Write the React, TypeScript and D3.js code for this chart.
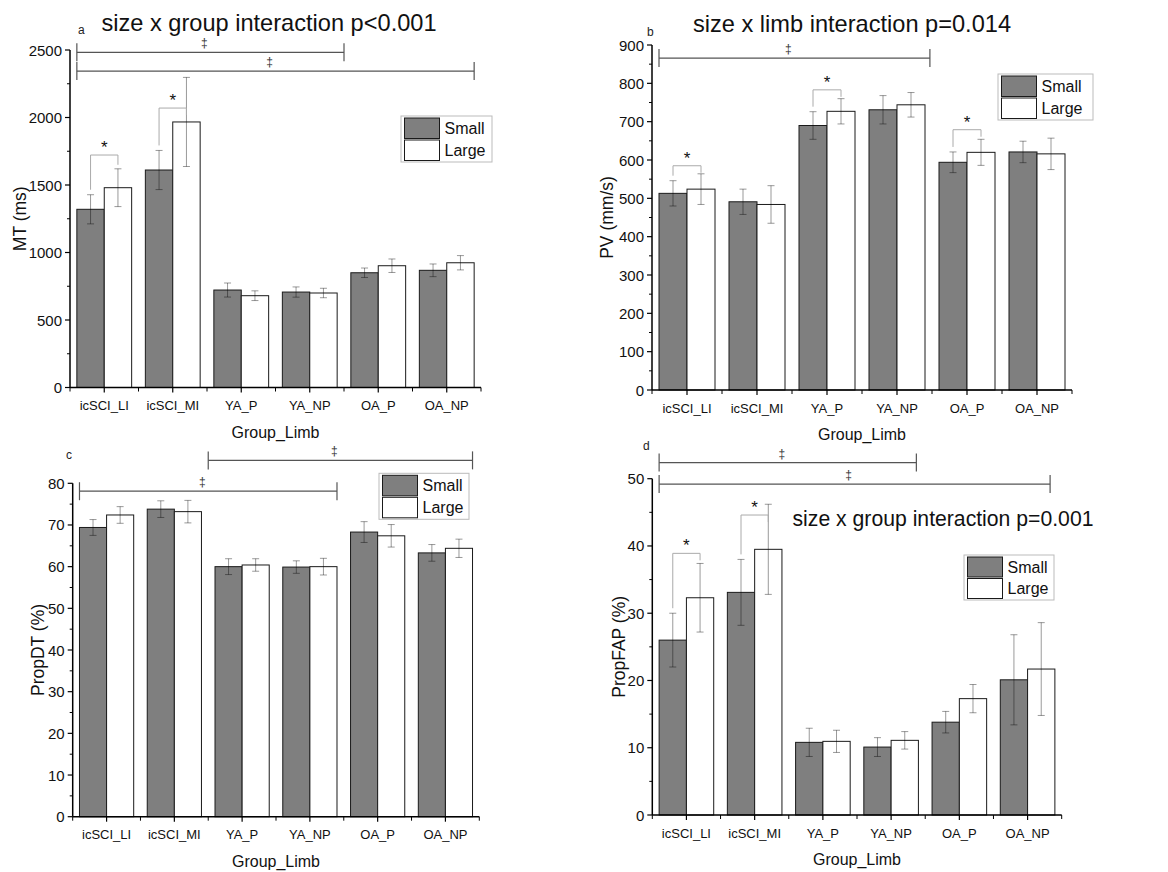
import React from "react";
import * as d3 from "d3";

// ---------- data ----------
const categories = ["icSCI_LI", "icSCI_MI", "YA_P", "YA_NP", "OA_P", "OA_NP"];
const seriesNames = ["Small", "Large"];

const mtSmall = [1320, 1611, 722, 707, 850, 868];
const mtSmallErr = [108, 145, 52, 38, 35, 47];
const mtLarge = [1480, 1967, 680, 700, 902, 924];
const mtLargeErr = [140, 330, 36, 35, 50, 53];
const mtTicks = [0, 500, 1000, 1500, 2000, 2500];

const pvSmall = [513, 491, 690, 731, 594, 621];
const pvSmallErr = [33, 33, 36, 37, 27, 28];
const pvLarge = [524, 484, 727, 744, 620, 616];
const pvLargeErr = [40, 49, 33, 32, 34, 41];
const pvTicks = [0, 100, 200, 300, 400, 500, 600, 700, 800, 900];

const dtSmall = [69.4, 73.8, 60.0, 59.9, 68.3, 63.3];
const dtSmallErr = [1.9, 2.0, 1.9, 1.5, 2.5, 2.0];
const dtLarge = [72.4, 73.2, 60.4, 60.0, 67.4, 64.4];
const dtLargeErr = [2.0, 2.7, 1.5, 2.0, 2.7, 2.2];
const dtTicks = [0, 10, 20, 30, 40, 50, 60, 70, 80];

const fapSmall = [26.0, 33.1, 10.8, 10.1, 13.8, 20.1];
const fapSmallErr = [4.0, 4.9, 2.1, 1.4, 1.6, 6.7];
const fapLarge = [32.3, 39.5, 10.95, 11.1, 17.3, 21.7];
const fapLargeErr = [5.1, 6.7, 1.65, 1.3, 2.1, 6.9];
const fapTicks = [0, 10, 20, 30, 40, 50];

// group-difference lines (‡): [from, to] in category units, level in data units
const mtGroupLines = [
  { from: 0.1, to: 4.0, level: 2483 },
  { from: 0.1, to: 5.9, level: 2344 },
];
const pvGroupLines = [{ from: 0.1, to: 3.97, level: 866 }];
const dtGroupLines = [
  { from: 2.0, to: 5.9, level: 85.5 },
  { from: 0.1, to: 3.9, level: 78.1 },
];
const fapGroupLines = [
  { from: 0.1, to: 3.87, level: 52.4 },
  { from: 0.1, to: 5.83, level: 49.2 },
];

// size-difference brackets (*): category index, level in data units
const mtSizeBrackets = [
  { cat: 0, level: 1722 },
  { cat: 1, level: 2070 },
];
const pvSizeBrackets = [
  { cat: 0, level: 585 },
  { cat: 2, level: 783 },
  { cat: 4, level: 679 },
];
const dtSizeBrackets: { cat: number; level: number }[] = [];
const fapSizeBrackets = [
  { cat: 0, level: 38.9 },
  { cat: 1, level: 44.6 },
];

// ---------- layout ----------
const FONT = "'Liberation Sans', Arial, Helvetica, sans-serif";
const SMALL_FILL = "#7f7f7f";

type PanelProps = {
  letter: string;
  letterPos: [number, number];
  yLabel: string;
  yLabelX: number;
  x0: number;
  x1: number;
  yTop: number;
  yBottom: number;
  ticks: number[];
  small: number[];
  smallErr: number[];
  large: number[];
  largeErr: number[];
  groupLines: { from: number; to: number; level: number }[];
  sizeBrackets: { cat: number; level: number }[];
  legend: { x: number; y: number; w: number; h: number };
  title?: { text: string; x: number; y: number; size: number };
};

function Panel(p: PanelProps) {
  const x = d3
    .scaleBand<string>()
    .domain(categories)
    .range([p.x0, p.x1])
    .paddingInner(0.2)
    .paddingOuter(0.1);
  const step = x.step();
  const bw = x.bandwidth() / 2;
  const ymax = p.ticks[p.ticks.length - 1];
  const y = d3.scaleLinear().domain([0, ymax]).range([p.yBottom, p.yTop]);
  const u = (v: number) => p.x0 + v * step;
  const minorStep = (p.ticks[1] - p.ticks[0]) / 2;
  const minor = d3.range(minorStep, ymax, minorStep * 2);
  const series = [
    { vals: p.small, errs: p.smallErr, fill: SMALL_FILL, off: 0 },
    { vals: p.large, errs: p.largeErr, fill: "#ffffff", off: 1 },
  ];
  const boundaries = d3.range(0, categories.length + 1).map((i) => p.x0 + i * step);

  return (
    <g>
      {p.title && (
        <text x={p.title.x} y={p.title.y} fontSize={p.title.size} textAnchor="middle" fill="#111">
          {p.title.text}
        </text>
      )}
      <text x={p.letterPos[0]} y={p.letterPos[1]} fontSize={12} fill="#222">
        {p.letter}
      </text>

      {/* bars */}
      {series.map((s, si) =>
        categories.map((c, i) => {
          const bx = (x(c) as number) + s.off * bw;
          return (
            <rect
              key={`b${si}-${i}`}
              x={bx}
              y={y(s.vals[i])}
              width={bw}
              height={p.yBottom - y(s.vals[i])}
              fill={s.fill}
              stroke="#1a1a1a"
              strokeWidth={1}
            />
          );
        })
      )}

      {/* error bars */}
      {series.map((s, si) =>
        categories.map((c, i) => {
          const cx = (x(c) as number) + s.off * bw + bw / 2;
          const hi = y(s.vals[i] + s.errs[i]);
          const lo = y(s.vals[i] - s.errs[i]);
          return (
            <g key={`e${si}-${i}`} stroke="#000" strokeOpacity={0.4} strokeWidth={1}>
              <line x1={cx} x2={cx} y1={hi} y2={lo} />
              <line x1={cx - 3.5} x2={cx + 3.5} y1={hi} y2={hi} />
              <line x1={cx - 3.5} x2={cx + 3.5} y1={lo} y2={lo} />
            </g>
          );
        })
      )}

      {/* size brackets */}
      {p.sizeBrackets.map((b, k) => {
        const c = categories[b.cat];
        const lx = (x(c) as number) + bw / 2;
        const rx = (x(c) as number) + bw * 1.5;
        const by = y(b.level);
        const lEnd = Math.max(by + 7, y(p.small[b.cat] + p.smallErr[b.cat]) - 5);
        const rEnd = Math.max(by + 7, y(p.large[b.cat] + p.largeErr[b.cat]) - 4);
        return (
          <g key={`s${k}`}>
            <path
              d={`M${lx},${lEnd}V${by}H${rx}V${rEnd}`}
              fill="none"
              stroke="#aaa"
              strokeWidth={1}
            />
            <text x={(lx + rx) / 2} y={by - 2} fontSize={17} textAnchor="middle" fill="#111">
              *
            </text>
          </g>
        );
      })}

      {/* group lines */}
      {p.groupLines.map((g, k) => {
        const a = u(g.from);
        const b = u(g.to);
        const gy = y(g.level);
        return (
          <g key={`g${k}`}>
            <g stroke="#555" strokeWidth={1.2}>
              <line x1={a} x2={b} y1={gy} y2={gy} />
              <line x1={a} x2={a} y1={gy - 9} y2={gy + 9} />
              <line x1={b} x2={b} y1={gy - 9} y2={gy + 9} />
            </g>
            <text x={(a + b) / 2 - 6} y={gy - 5} fontSize={12} textAnchor="middle" fill="#333">
              ‡
            </text>
          </g>
        );
      })}

      {/* y axis */}
      <line x1={p.x0} x2={p.x0} y1={p.yTop} y2={p.yBottom} stroke="#000" strokeWidth={1.5} />
      {p.ticks.map((t) => (
        <g key={`yt${t}`}>
          <line x1={p.x0 - 5} x2={p.x0} y1={y(t)} y2={y(t)} stroke="#000" strokeWidth={1.2} />
          <text
            x={p.x0 - 8}
            y={y(t)}
            fontSize={15}
            textAnchor="end"
            dominantBaseline="central"
            fill="#111"
          >
            {t}
          </text>
        </g>
      ))}
      {minor.map((t) => (
        <line key={`ym${t}`} x1={p.x0 - 3} x2={p.x0} y1={y(t)} y2={y(t)} stroke="#000" strokeWidth={1} />
      ))}
      <text
        transform={`translate(${p.yLabelX},${(p.yTop + p.yBottom) / 2}) rotate(-90)`}
        fontSize={17.5}
        textAnchor="middle"
        dominantBaseline="central"
        fill="#111"
      >
        {p.yLabel}
      </text>

      {/* x axis */}
      <line x1={p.x0} x2={p.x1} y1={p.yBottom} y2={p.yBottom} stroke="#000" strokeWidth={1.5} />
      {boundaries.map((bx, i) => (
        <line key={`xb${i}`} x1={bx} x2={bx} y1={p.yBottom} y2={p.yBottom + 4} stroke="#000" strokeWidth={1} />
      ))}
      {categories.map((c) => {
        const cx = (x(c) as number) + x.bandwidth() / 2;
        return (
          <g key={`xt${c}`}>
            <line x1={cx} x2={cx} y1={p.yBottom} y2={p.yBottom + 5} stroke="#000" strokeWidth={1.2} />
            <text x={cx} y={p.yBottom + 22.5} fontSize={13} textAnchor="middle" fill="#111">
              {c}
            </text>
          </g>
        );
      })}
      <text x={(p.x0 + p.x1) / 2} y={p.yBottom + 50} fontSize={16} textAnchor="middle" fill="#111">
        Group_Limb
      </text>

      {/* legend */}
      <g>
        <rect
          x={p.legend.x}
          y={p.legend.y}
          width={p.legend.w}
          height={p.legend.h}
          fill="#fff"
          stroke="#bbb"
          strokeWidth={1}
        />
        {seriesNames.map((n, i) => {
          const sh = (p.legend.h - 5) / 2;
          const sy = p.legend.y + 2 + i * (sh + 1.5);
          return (
            <g key={`l${n}`}>
              <rect
                x={p.legend.x + 3.5}
                y={sy}
                width={35}
                height={sh}
                fill={i === 0 ? SMALL_FILL : "#fff"}
                stroke="#1a1a1a"
                strokeWidth={1}
              />
              <text x={p.legend.x + 43.5} y={sy + sh / 2 + 5.5} fontSize={16} fill="#111">
                {n}
              </text>
            </g>
          );
        })}
      </g>
    </g>
  );
}

export default function App() {
  return (
    <div style={{ position: "absolute", left: 0, top: 0 }}>
      <svg width={1168} height={872} fontFamily={FONT} style={{ display: "block", background: "#fff" }}>
        <Panel
          letter="a"
          letterPos={[78, 34]}
          yLabel="MT (ms)"
          yLabelX={20}
          x0={70}
          x1={481}
          yTop={50}
          yBottom={387.5}
          ticks={mtTicks}
          small={mtSmall}
          smallErr={mtSmallErr}
          large={mtLarge}
          largeErr={mtLargeErr}
          groupLines={mtGroupLines}
          sizeBrackets={mtSizeBrackets}
          legend={{ x: 401, y: 116, w: 91, h: 46 }}
          title={{ text: "size x group interaction p<0.001", x: 269, y: 31, size: 23.6 }}
        />
        <Panel
          letter="b"
          letterPos={[647, 36]}
          yLabel="PV (mm/s)"
          yLabelX={607}
          x0={652}
          x1={1072}
          yTop={45}
          yBottom={390}
          ticks={pvTicks}
          small={pvSmall}
          smallErr={pvSmallErr}
          large={pvLarge}
          largeErr={pvLargeErr}
          groupLines={pvGroupLines}
          sizeBrackets={pvSizeBrackets}
          legend={{ x: 998, y: 74, w: 95, h: 46 }}
          title={{ text: "size x limb interaction p=0.014", x: 852, y: 32, size: 23.6 }}
        />
        <Panel
          letter="c"
          letterPos={[66, 459]}
          yLabel="PropDT (%)"
          yLabelX={37.5}
          x0={72.7}
          x1={479.3}
          yTop={483.3}
          yBottom={816.7}
          ticks={dtTicks}
          small={dtSmall}
          smallErr={dtSmallErr}
          large={dtLarge}
          largeErr={dtLargeErr}
          groupLines={dtGroupLines}
          sizeBrackets={dtSizeBrackets}
          legend={{ x: 379, y: 473.3, w: 90, h: 46 }}
        />
        <Panel
          letter="d"
          letterPos={[643, 450]}
          yLabel="PropFAP (%)"
          yLabelX={619}
          x0={652.3}
          x1={1061.7}
          yTop={478.7}
          yBottom={815}
          ticks={fapTicks}
          small={fapSmall}
          smallErr={fapSmallErr}
          large={fapLarge}
          largeErr={fapLargeErr}
          groupLines={fapGroupLines}
          sizeBrackets={fapSizeBrackets}
          legend={{ x: 964, y: 555, w: 90, h: 45 }}
          title={{ text: "size x group interaction p=0.001", x: 943, y: 526, size: 21.2 }}
        />
      </svg>
    </div>
  );
}
